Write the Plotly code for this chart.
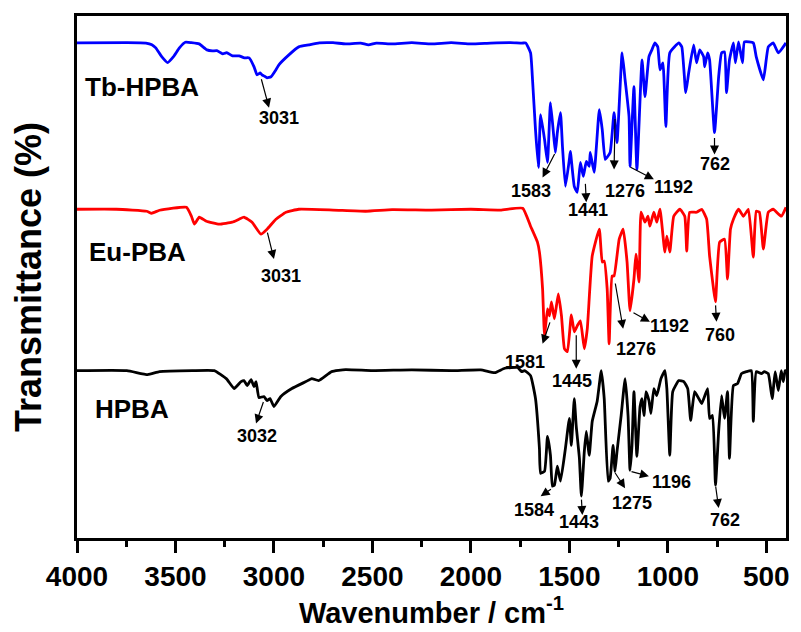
import plotly.graph_objects as go

# ---------------- data (wavenumber in cm-1, transmittance in %) ----------------
tb_wn = [4000, 3750, 3650, 3620, 3600, 3570, 3540, 3510, 3480, 3450, 3420, 3380, 3340, 3313, 3290, 3260, 3240, 3210,
         3177, 3150, 3126, 3101, 3086, 3070, 3061, 3045, 3035, 3015, 2990, 2975, 2924, 2874, 2823, 2770,
         2700, 2636, 2560, 2520, 2480, 2400, 2300, 2200, 2100, 2000, 1900, 1800, 1740, 1722, 1697, 1687,
         1672, 1657, 1646, 1626, 1611, 1596, 1581, 1571, 1561, 1545, 1535, 1520, 1500, 1495, 1475, 1460,
         1444, 1429, 1414, 1399, 1394, 1374, 1348, 1333, 1318, 1293, 1273, 1258, 1232, 1217, 1197, 1192,
         1172, 1157, 1131, 1116, 1096, 1081, 1066, 1051, 1040, 1025, 1010, 990, 944, 929, 909, 894, 869,
         854, 838, 818, 813, 798, 788, 763, 742, 727, 712, 702, 687, 667, 657, 641, 621, 611, 566, 551,
         515, 490, 465, 439, 400]
tb_t = [100.25, 100.3, 100.2, 99.8, 99, 96.8, 95.3, 96.8, 99, 100.4, 100.3, 100, 98.5, 98.25, 98.3, 97.5, 97.8, 97,
        97, 96.5, 96.5, 94.25, 92.25, 92.7, 92.25, 91.8, 91.5, 91.75, 93.5, 94.75, 97.25, 99.25, 99.75, 100.25,
        100.3, 100, 100.2, 99.75, 100.2, 100, 100.3, 100, 100.3, 100, 100.2, 100.3, 100.2, 100.25, 97.75, 91,
        78.5, 69, 82.25, 76, 70.25, 85.25, 77.75, 72.75, 77.75, 82.75, 74.25, 64.25, 71, 73, 64.25, 62.75,
        70.25, 66.75, 70.5, 69.25, 72.75, 67.75, 83.5, 78.5, 71, 72.75, 82.75, 75.25, 97.75, 91, 81.75, 69.25,
        89.25, 68.5, 96, 86.75, 96.75, 98.5, 100.25, 99.25, 93.5, 95.25, 79.25, 97.75, 100.25, 99.25, 87.75, 92.75, 99.75,
        95.25, 98.5, 96.75, 94.25, 97.75, 96, 77.75, 91.75, 97.75, 98, 87.75, 96, 100.25, 95.25, 100.5, 95.25, 100.5, 100.25, 96.75,
        91, 99.25, 100.25, 97.75, 100.25]

eu_wn = [4000, 3800, 3646, 3621, 3581, 3444, 3419, 3404, 3379, 3343, 3278, 3212, 3177, 3152, 3111, 3066,
         3035, 2990, 2939, 2874, 2700, 2535, 2400, 2200, 2000, 1850, 1737, 1697, 1662, 1652, 1636, 1626,
         1611, 1601, 1591, 1576, 1556, 1540, 1525, 1510, 1490, 1475, 1460, 1444, 1424, 1409, 1384, 1348,
         1333, 1323, 1308, 1298, 1283, 1273, 1247, 1227, 1207, 1192, 1172, 1162, 1146, 1136, 1116, 1101,
         1091, 1071, 1056, 1040, 1015, 1005, 990, 970, 939, 914, 904, 889, 854, 828, 803, 788, 768, 758,
         737, 712, 697, 682, 667, 641, 616, 591, 566, 551, 535, 515, 490, 465, 424, 400]
eu_t = [100.5, 100.5, 100, 99.5, 100.25, 101, 98.75, 96.75, 98.5, 97.5, 96.75, 97.25, 98, 98.5, 97.25, 94.25,
        95.5, 98, 99.75, 100.5, 100.3, 100, 100.4, 100.3, 100.5, 100.3, 100.75, 96.25, 92.25, 89.75, 80.5, 68.75,
        75.5, 73.75, 77.25, 73, 79.25, 73.75, 65.5, 64.75, 74, 69.75, 71.25, 72.5, 65.5, 70.5, 88.75, 95.5,
        87.25, 87.5, 80.5, 66.75, 83.75, 83.75, 93, 95.5, 87.25, 75, 83, 89.25, 82.25, 99.75, 97.25, 98.75,
        96.25, 99.75, 97.25, 100.5, 89.75, 93.75, 89.75, 98.75, 100.5, 98.75, 90, 99.75, 99.75, 100.5, 98, 88.75, 80.5, 77.25,
        92.25, 93, 83, 95.5, 98, 100.5, 98.75, 100.5, 88.5, 100, 99.75, 90.5, 99.75, 100.5, 98.75, 101]

hp_wn = [4000, 3747, 3641, 3581, 3414, 3303, 3242, 3202, 3167, 3152, 3136, 3116, 3101, 3091, 3076, 3051,
         3035, 3020, 3000, 2965, 2909, 2838, 2808, 2773, 2707, 2636, 2500, 2300, 2100, 1950, 1879, 1828,
         1763, 1742, 1727, 1697, 1672, 1652, 1646, 1626, 1611, 1596, 1586, 1576, 1561, 1545, 1520, 1500,
         1490, 1475, 1465, 1449, 1439, 1424, 1414, 1399, 1384, 1359, 1338, 1323, 1303, 1293, 1278, 1268,
         1258, 1237, 1217, 1202, 1192, 1182, 1172, 1157, 1141, 1131, 1121, 1111, 1096, 1086, 1071, 1056,
         1035, 1015, 1005, 990, 975, 944, 919, 899, 884, 864, 843, 828, 798, 788, 773, 758, 742, 727,
         712, 697, 687, 667, 646, 626, 601, 576, 566, 551, 525, 510, 490, 470, 455, 439, 424, 414, 404, 400]
hp_t = [100, 100, 99, 99.75, 100, 100, 98, 95.5, 97.25, 97.5, 96.25, 97.75, 96, 97.25, 93.25, 93.5,
        92.5, 93, 91, 93.5, 95.5, 97.25, 98, 97.5, 99.75, 100.25, 100, 100.2, 100, 100.2, 99.5, 100.6,
        100.8, 99.75, 100, 98.75, 93, 80.5, 74.25, 74.75, 83.5, 78.75, 71, 71.25, 76, 72.25, 80.5, 88,
        81.25, 93, 86, 78, 68.5, 79.75, 84.75, 78.75, 87.25, 92.25, 100, 93, 72.25, 73, 81.25, 74.75,
        79.75, 88.75, 98, 88.75, 75, 81.25, 94.75, 78.5, 91, 93, 88.75, 94.75, 92.5, 89.25, 95.5, 93.75,
        98, 100, 95.5, 78.75, 94.75, 97.5, 97.25, 95.5, 87.5, 94.75, 93, 91.75, 95.5, 88, 88.75, 71.25, 84.75, 93.75,
        88, 94.75, 78, 96.25, 96.75, 99.25, 99.75, 100, 87.25, 99.75, 99.25, 99.75, 99.25, 93, 99.75, 95, 100, 97.25, 100, 100]

series_names = ["Tb-HPBA", "Eu-PBA", "HPBA"]
series_colors = ["#0000FF", "#FF0000", "#000000"]
series_offsets = [82, 40, 0]

# peak labels: (text, label wn, label y, arrow tail wn, tail y, arrow head wn, head y)
peak_labels = [
    ("3031", 2975, 163.5, 3066, 173.5, 3025, 166.0),
    ("1583", 1697, 145.0, 1571, 154.75, 1636, 148.5),
    ("1441", 1404, 140.25, 1419, 147.25, 1414, 142.25),
    ("1276", 1217, 145.0, 1268, 163.5, 1273, 150.5),
    ("1192", 970, 146.0, 1197, 151.25, 1071, 148.0),
    ("762", 763, 151.75, 763, 158.75, 763, 154.25),
    ("3031", 2965, 123.75, 3035, 135.0, 3000, 128.0),
    ("1581", 1727, 102.25, 1596, 112.5, 1636, 106.75),
    ("1445", 1485, 97.5, 1465, 109.25, 1465, 100.5),
    ("1276", 1162, 105.5, 1268, 122.25, 1227, 110.5),
    ("1192", 990, 111.25, 1182, 114.75, 1091, 112.25),
    ("760", 737, 109.0, 758, 116.75, 753, 112.25),
    ("3032", 3086, 83.5, 3051, 92.5, 3091, 86.75),
    ("1584", 1682, 65.0, 1586, 70.5, 1646, 68.5),
    ("1443", 1449, 62.0, 1439, 68.0, 1434, 63.75),
    ("1275", 1182, 66.75, 1273, 74.75, 1217, 70.5),
    ("1196", 980, 72.0, 1192, 74.75, 1096, 73.5),
    ("762", 712, 62.5, 758, 71.25, 742, 65.5),
]
# series name labels: (wn of left edge, y)
name_pos = [(3970, 171.25), (3949, 129.75), (3919, 90.5)]

FONT = "Liberation Sans, Arial, sans-serif"

fig = go.Figure()
for wn, t, name, col, off in zip([tb_wn, eu_wn, hp_wn], [tb_t, eu_t, hp_t],
                                 series_names, series_colors, series_offsets):
    fig.add_trace(go.Scatter(x=wn, y=[v + off for v in t], mode="lines", name=name,
                             line=dict(color=col, width=2.8, shape="spline", smoothing=0.4),
                             showlegend=False))

annotations = []
for text, lx, ly, tx, ty, hx, hy in peak_labels:
    annotations.append(dict(x=hx, y=hy, ax=tx, ay=ty, xref="x", yref="y", axref="x", ayref="y",
                            text="", showarrow=True, arrowhead=2, arrowsize=1.5, arrowwidth=1.2,
                            arrowcolor="black"))
    annotations.append(dict(x=lx, y=ly, xref="x", yref="y", text=text, showarrow=False,
                            font=dict(family=FONT, size=18, color="black", weight="bold")))
for name, (nx, ny) in zip(series_names, name_pos):
    annotations.append(dict(x=nx, y=ny, xref="x", yref="y", text=name, showarrow=False,
                            xanchor="left", yanchor="middle",
                            font=dict(family=FONT, size=26, color="black", weight="bold")))

fig.update_layout(
    width=801, height=632,
    margin=dict(l=77, r=11, t=16, b=92),
    paper_bgcolor="white", plot_bgcolor="white",
    annotations=annotations,
    xaxis=dict(range=[4000, 400], dtick=500, tick0=0, ticks="outside", ticklen=12, tickwidth=2.5,
               tickcolor="black", showgrid=False, zeroline=False,
               showline=True, linecolor="black", linewidth=2.5, mirror=True,
               tickfont=dict(family=FONT, size=28, color="black", weight="bold"),
               minor=dict(dtick=250, tick0=0, ticks="outside", ticklen=6, tickwidth=2.5, tickcolor="black"),
               title=dict(text="Wavenumber / cm<sup>-1</sup>", standoff=8,
                          font=dict(family=FONT, size=29, color="black", weight="bold"))),
    yaxis=dict(range=[58, 189], showticklabels=False, ticks="", showgrid=False, zeroline=False,
               showline=True, linecolor="black", linewidth=2.5, mirror=True,
               title=dict(text="Transmittance (%)", standoff=22,
                          font=dict(family=FONT, size=36, color="black", weight="bold"))),
)

fig.write_html("out.html")
